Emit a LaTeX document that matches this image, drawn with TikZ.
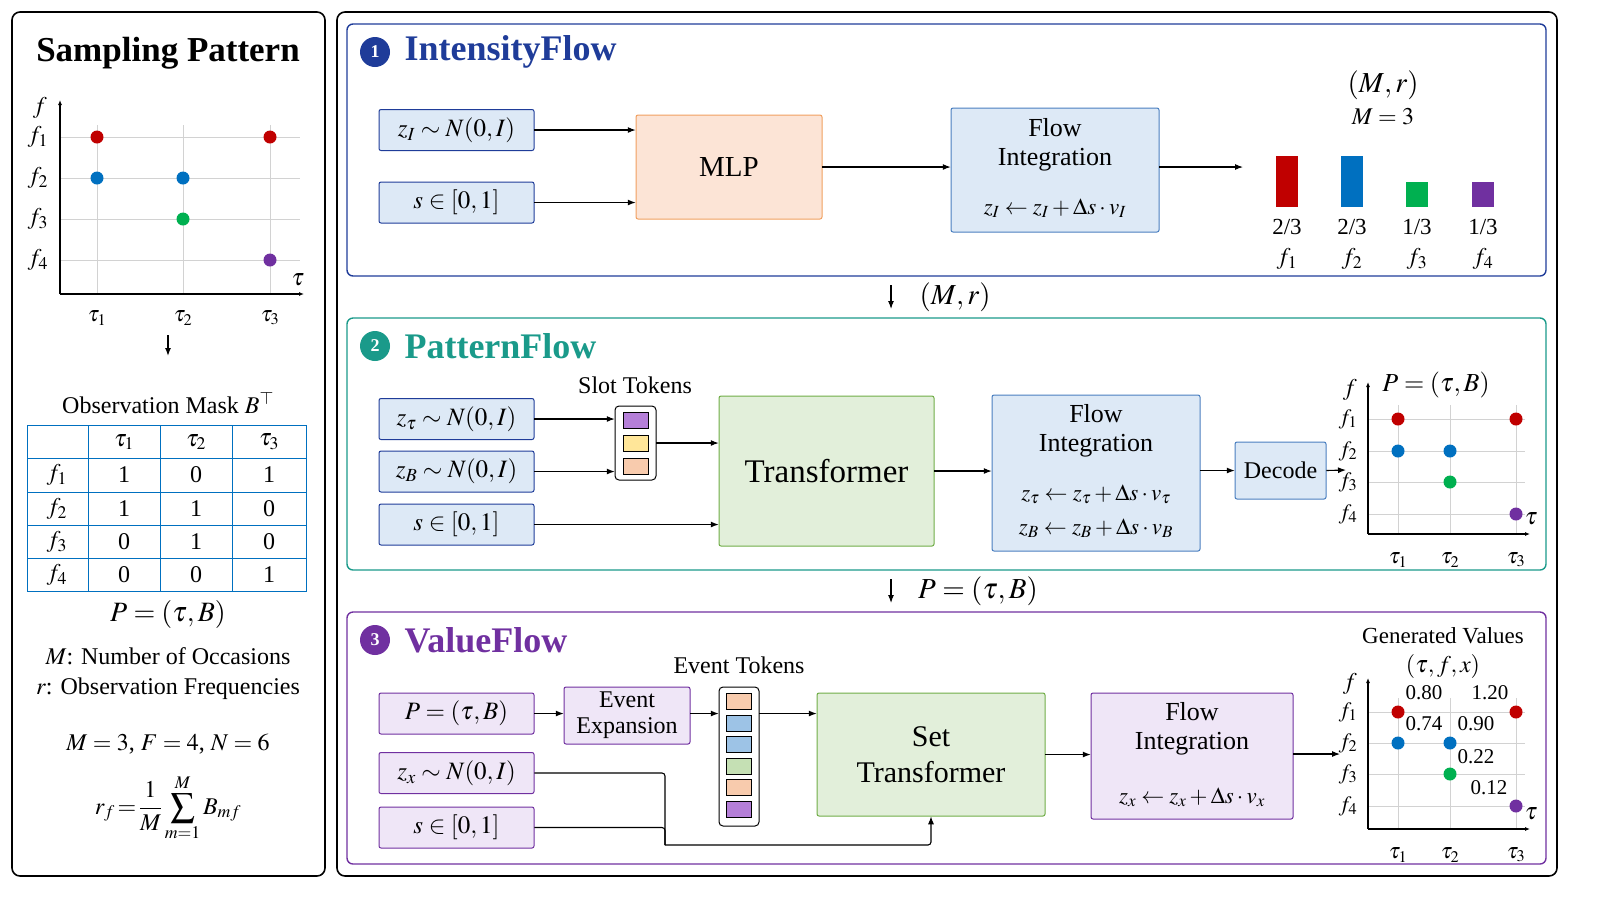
\documentclass[tikz,border=0pt]{standalone}
\usepackage{mathptmx}
\usepackage[no-math]{fontspec}
\setmainfont{Liberation Serif}
\usetikzlibrary{arrows.meta}

\definecolor{navy}{HTML}{1F3C99}
\definecolor{teal2}{HTML}{1A9A8A}
\definecolor{purp}{HTML}{7030A0}
\definecolor{lblue}{HTML}{DDE9F6}
\definecolor{bblue}{HTML}{4A7FC0}
\definecolor{lorange}{HTML}{FCE4D6}
\definecolor{borange}{HTML}{F0A060}
\definecolor{lgreen}{HTML}{E2EFDA}
\definecolor{bgreen}{HTML}{70AD47}
\definecolor{lpurp}{HTML}{EFE6F7}
\definecolor{dred}{HTML}{C00000}
\definecolor{dblue}{HTML}{0070C0}
\definecolor{dgreen}{HTML}{00B050}
\definecolor{dpurp}{HTML}{7030A0}
\definecolor{tpurp}{HTML}{B57FD8}
\definecolor{tyell}{HTML}{FFE699}
\definecolor{torange}{HTML}{F8CBAD}
\definecolor{tblue}{HTML}{9DC3E6}
\definecolor{tgreen}{HTML}{C5E0B4}

\newcommand{\fs}[1]{\fontsize{#1}{#1}\selectfont}

\tikzset{
  box/.style = {draw, rounded corners=1pt, line width=0.5pt, align=center, inner sep=0pt},
  inbox/.style = {box, fill=lblue, draw=navy, minimum width=155pt, minimum height=41pt, font=\fs{25}},
  flowbox/.style = {box, fill=lblue, draw=bblue, font=\fs{25}},
  token/.style = {draw, line width=0.3pt, minimum width=25pt, minimum height=16pt, inner sep=0pt},
  dot/.style = {circle, fill=#1, inner sep=0pt, minimum size=13pt},
  lab/.style = {font=\fs{24}},
  title/.style = {font=\bfseries\fs{36}, anchor=west},
  num/.style = {circle, fill=#1, text=white, font=\bfseries\fs{18}, inner sep=0pt, minimum size=30pt},
  arr/.style = {-{Latex[length=4pt,width=3pt]}, line width=0.55pt},
  axarr/.style = {-{Latex[length=2.5pt,width=2pt]}, line width=0.55pt},
  grid/.style = {gray!35, line width=0.4pt},
}

\begin{document}
\begin{tikzpicture}[x=1pt, y=-1pt, scale=0.5, every node/.append style={transform shape}]
  \useasboundingbox (0,0) rectangle (1600,907);

  % Outer frames.
  \draw[line width=0.8pt, rounded corners=4pt] (12,12) rectangle (325,876);
  \draw[line width=0.8pt, rounded corners=4pt] (337,12) rectangle (1557,876);
  \draw[line width=0.7pt, draw=navy, rounded corners=3pt] (347,24) rectangle (1546,276);
  \draw[line width=0.7pt, draw=teal2, rounded corners=3pt] (347,318) rectangle (1546,570);
  \draw[line width=0.7pt, draw=purp, rounded corners=3pt] (347,612) rectangle (1546,864);

  % ---------------- Left panel: sampling pattern.
  \node[font=\bfseries\fs{35}] (sptitle) at (168,53) {Sampling Pattern};
  \foreach \y in {137,178,219,260} \draw[grid] (60,\y) -- (300,\y);
  \foreach \x in {97,183,270} \draw[grid] (\x,125) -- (\x,294);
  \draw[axarr, line width=0.6pt] (60,294) -- (60,100);
  \draw[axarr, line width=0.6pt] (60,294) -- (304,294);
  \node[lab] at (40,108) {$f$};
  \node[lab] at (298,280) {$\tau$};
  \foreach \i/\y in {1/137,2/178,3/219,4/260} \node[lab] at (38,\y) {$f_{\i}$};
  \foreach \i/\x in {1/97,2/183,3/270} \node[font=\fs{22}] at (\x,318) {$\tau_{\i}$};
  \node[dot=dred] (la1) at (97,137) {};
  \node[dot=dred] (la2) at (270,137) {};
  \node[dot=dblue] (la3) at (97,178) {};
  \node[dot=dblue] (la4) at (183,178) {};
  \node[dot=dgreen] (la5) at (183,219) {};
  \node[dot=dpurp] (la6) at (270,260) {};
  \coordinate (lA) at (168,335);
  \coordinate (lB) at (168,356);
  \draw[arr, line width=0.7pt] (lA) -- (lB);

  % Observation mask table.
  \node[lab] (masktitle) at (168,403) {Observation Mask $B^{\top}$};
  \draw[dblue, line width=0.5pt] (27,425) rectangle (306,591);
  \foreach \x in {88,160,232} \draw[dblue, line width=0.5pt] (\x,425) -- (\x,591);
  \foreach \y in {458,492,525,558} \draw[dblue, line width=0.5pt] (27,\y) -- (306,\y);
  \foreach \i/\x in {1/124,2/196,3/269} \node[lab] at (\x,442) {$\tau_{\i}$};
  \foreach \r/\y/\a/\b/\c in {1/475/1/0/1, 2/509/1/1/0, 3/542/0/1/0, 4/575/0/0/1} {
    \node[lab] at (57,\y) {$f_{\r}$};
    \node[lab] at (124,\y) {\a};
    \node[lab] at (196,\y) {\b};
    \node[lab] at (269,\y) {\c};
  }
  \node[font=\fs{28}] (lP) at (168,614) {$P = (\tau, B)$};
  \node[lab] (lM) at (168,656) {$M$: Number of Occasions};
  \node[lab] (lr) at (168,689) {$r$: Observation Frequencies};
  \node[lab] (lMFN) at (168,744) {$M = 3$, $F = 4$, $N = 6$};
  \node[lab] (lform) at (168,808) {$\displaystyle r_f \!=\! \frac{1}{M}\sum_{m=1}^{M} B_{mf}$};

  % ---------------- 1: IntensityFlow.
  \node[num=navy] (n1) at (375,52) {1};
  \node[title, text=navy] (t1) at (401,52) {IntensityFlow};
  \node[inbox] (zI) at (456.5,130) {$z_I \sim N(0, I)$};
  \node[inbox] (s1) at (456.5,202.5) {$s \in [0, 1]$};
  \node[box, fill=lorange, draw=borange, minimum width=186pt, minimum height=104pt, font=\fs{29}] (mlp) at (729,167) {MLP};
  \node[flowbox, minimum width=208pt, minimum height=124pt] (fi1) at (1055,170) {};
  \node[font=\fs{26}, align=center] at (1055,145) {Flow\\[3pt]Integration};
  \node[font=\fs{23}] at (1055,208) {$z_I \leftarrow z_I + \Delta s \cdot v_I$};
  \coordinate (bars) at (1243,167);
  \draw[arr] (zI.east) -- (mlp.west |- zI.east);
  \draw[arr] (s1.east) -- (mlp.west |- s1.east);
  \draw[arr] (mlp.east) -- (fi1.west |- mlp.east);
  \draw[arr] (fi1.east |- bars) -- (bars);
  \node[font=\fs{29}] at (1383,85) {$(M, r)$};
  \node[lab] at (1383,117) {$M = 3$};
  \foreach \x/\t/\c/\v/\i in {1287/156/dred/{2/3}/1, 1352/156/dblue/{2/3}/2, 1417/182/dgreen/{1/3}/3, 1483/182/dpurp/{1/3}/4} {
    \fill[\c] (\x-11,\t) rectangle (\x+11,207);
    \node[font=\fs{23}] at (\x,227) {\v};
    \node[lab] at (\x,259) {$f_{\i}$};
  }

  % Link 1 -> 2.
  \coordinate (m1a) at (891,285);
  \coordinate (m1b) at (891,309);
  \draw[arr] (m1a) -- (m1b);
  \node[font=\fs{29}] at (955,297) {$(M, r)$};

  % ---------------- 2: PatternFlow.
  \node[num=teal2] (n2) at (375,346) {2};
  \node[title, text=teal2] (t2) at (401,346) {PatternFlow};
  \node[inbox] (zt) at (456.5,419) {$z_\tau \sim N(0, I)$};
  \node[inbox] (zB) at (456.5,471.5) {$z_B \sim N(0, I)$};
  \node[inbox] (s2) at (456.5,524.5) {$s \in [0, 1]$};
  \node[box, rounded corners=2pt, fill=white, draw=black, minimum width=41pt, minimum height=74pt] (slot) at (635.5,443) {};
  \node[token, fill=tpurp] at (635.5,420) {};
  \node[token, fill=tyell] at (635.5,443) {};
  \node[token, fill=torange] at (635.5,466) {};
  \node[lab] at (635,385) {Slot Tokens};
  \node[box, fill=lgreen, draw=bgreen, minimum width=215pt, minimum height=150pt, font=\fs{33}] (trans) at (826.5,471) {Transformer};
  \node[flowbox, minimum width=208pt, minimum height=156pt] (fi2) at (1096,473) {};
  \node[font=\fs{26}, align=center] at (1096,431) {Flow\\[3pt]Integration};
  \node[font=\fs{23}] at (1096,494) {$z_\tau \leftarrow z_\tau + \Delta s \cdot v_\tau$};
  \node[font=\fs{23}] at (1096,528) {$z_B \leftarrow z_B + \Delta s \cdot v_B$};
  \node[flowbox, minimum width=91pt, minimum height=57pt, font=\fs{24}] (dec) at (1280.5,470.5) {Decode};
  \coordinate (p2) at (1346,470);
  \draw[arr] (zt.east) -- (slot.west |- zt.east);
  \draw[arr] (zB.east) -- (slot.west |- zB.east);
  \draw[arr] (slot.east) -- (trans.west |- slot.east);
  \draw[arr] (s2.east) -- (trans.west |- s2.east);
  \draw[arr] (trans.east) -- (fi2.west |- trans.east);
  \draw[arr] (fi2.east |- dec.west) -- (dec.west);
  \draw[arr] (dec.east) -- (p2);
  % Pattern plot.
  \foreach \y in {419,451,482,514} \draw[grid] (1368,\y) -- (1525,\y);
  \foreach \x in {1398,1450,1516} \draw[grid] (\x,405) -- (\x,534);
  \draw[axarr] (1368,534) -- (1368,382);
  \draw[axarr] (1368,534) -- (1530,534);
  \node[lab] at (1350,390) {$f$};
  \node[lab] at (1531,519) {$\tau$};
  \foreach \i/\y in {1/419,2/451,3/482,4/514} \node[font=\fs{22}] at (1348,\y) {$f_{\i}$};
  \foreach \i/\x in {1/1398,2/1450,3/1516} \node[font=\fs{22}] at (\x,560) {$\tau_{\i}$};
  \node[font=\fs{26}] at (1436,385) {$P = (\tau, B)$};
  \node[dot=dred] (pa1) at (1398,419) {};
  \node[dot=dred] (pa2) at (1516,419) {};
  \node[dot=dblue] (pa3) at (1398,451) {};
  \node[dot=dblue] (pa4) at (1450,451) {};
  \node[dot=dgreen] (pa5) at (1450,482) {};
  \node[dot=dpurp] (pa6) at (1516,514) {};

  % Link 2 -> 3.
  \coordinate (m2a) at (891,579);
  \coordinate (m2b) at (891,603);
  \draw[arr] (m2a) -- (m2b);
  \node[font=\fs{29}] at (978,591) {$P = (\tau, B)$};

  % ---------------- 3: ValueFlow.
  \node[num=purp] (n3) at (375,640) {3};
  \node[title, text=purp] (t3) at (401,640) {ValueFlow};
  \tikzset{inbox/.append style = {fill=lpurp, draw=purp}}
  \node[inbox] (P3) at (456.5,713.5) {$P = (\tau, B)$};
  \node[inbox] (zx) at (456.5,773) {$z_x \sim N(0, I)$};
  \node[inbox] (s3) at (456.5,827.5) {$s \in [0, 1]$};
  \node[box, fill=lpurp, draw=purp, minimum width=126pt, minimum height=57pt, font=\fs{24}] (ee) at (627,715.5) {Event\\[2pt]Expansion};
  \node[box, rounded corners=2pt, fill=white, draw=black, minimum width=40pt, minimum height=139pt] (evt) at (739,756.5) {};
  \foreach \c [count=\k] in {torange,tblue,tblue,tgreen,torange,tpurp}
    \node[token, fill=\c] at (739,680+\k*21.5) {};
  \node[lab] at (739,665) {Event Tokens};
  \node[box, fill=lgreen, draw=bgreen, minimum width=228pt, minimum height=123pt, font=\fs{30}] (settr) at (931,754.5) {Set\\[6pt]Transformer};
  \node[box, fill=lpurp, draw=purp, minimum width=202pt, minimum height=126pt] (fi3) at (1192,756) {};
  \node[font=\fs{26}, align=center] at (1192,729) {Flow\\[3pt]Integration};
  \node[font=\fs{23}] at (1192,797) {$z_x \leftarrow z_x + \Delta s \cdot v_x$};
  \coordinate (j3) at (665,845);
  \coordinate (p3) at (1340,754);
  \draw[arr] (P3.east) -- (ee.west |- P3.east);
  \draw[arr] (ee.east |- P3.east) -- (evt.west |- P3.east);
  \draw[arr] (evt.east |- P3.east) -- (settr.west |- P3.east);
  \draw[line width=0.55pt, rounded corners=1.5pt] (zx.east) -| (j3);
  \draw[line width=0.55pt, rounded corners=1.5pt] (s3.east) -| (j3);
  \draw[arr, rounded corners=1.5pt] (j3) -| (settr.south);
  \draw[arr] (settr.east) -- (fi3.west |- settr.east);
  \draw[arr] (fi3.east |- p3) -- (p3);
  % Value plot.
  \foreach \y in {712,743,774,806} \draw[grid] (1368,\y) -- (1525,\y);
  \foreach \x in {1398,1450,1516} \draw[grid] (\x,698) -- (\x,829);
  \draw[axarr] (1368,829) -- (1368,678);
  \draw[axarr] (1368,829) -- (1530,829);
  \node[lab] at (1350,684) {$f$};
  \node[lab] at (1531,814) {$\tau$};
  \foreach \i/\y in {1/712,2/743,3/774,4/806} \node[font=\fs{22}] at (1348,\y) {$f_{\i}$};
  \foreach \i/\x in {1/1398,2/1450,3/1516} \node[font=\fs{22}] at (\x,855) {$\tau_{\i}$};
  \node[font=\fs{23}] at (1443,636) {Generated Values};
  \node[font=\fs{24}] at (1443,666) {$(\tau, f, x)$};
  \node[dot=dred] (va1) at (1398,712) {};
  \node[dot=dred] (va2) at (1516,712) {};
  \node[dot=dblue] (va3) at (1398,743) {};
  \node[dot=dblue] (va4) at (1450,743) {};
  \node[dot=dgreen] (va5) at (1450,774) {};
  \node[dot=dpurp] (va6) at (1516,806) {};
  \node[font=\fs{21}] at (1424,693) {0.80};
  \node[font=\fs{21}] at (1490,693) {1.20};
  \node[font=\fs{21}] at (1424,724) {0.74};
  \node[font=\fs{21}] at (1476,724) {0.90};
  \node[font=\fs{21}] at (1476,757) {0.22};
  \node[font=\fs{21}] at (1489,788) {0.12};
\end{tikzpicture}
\end{document}
